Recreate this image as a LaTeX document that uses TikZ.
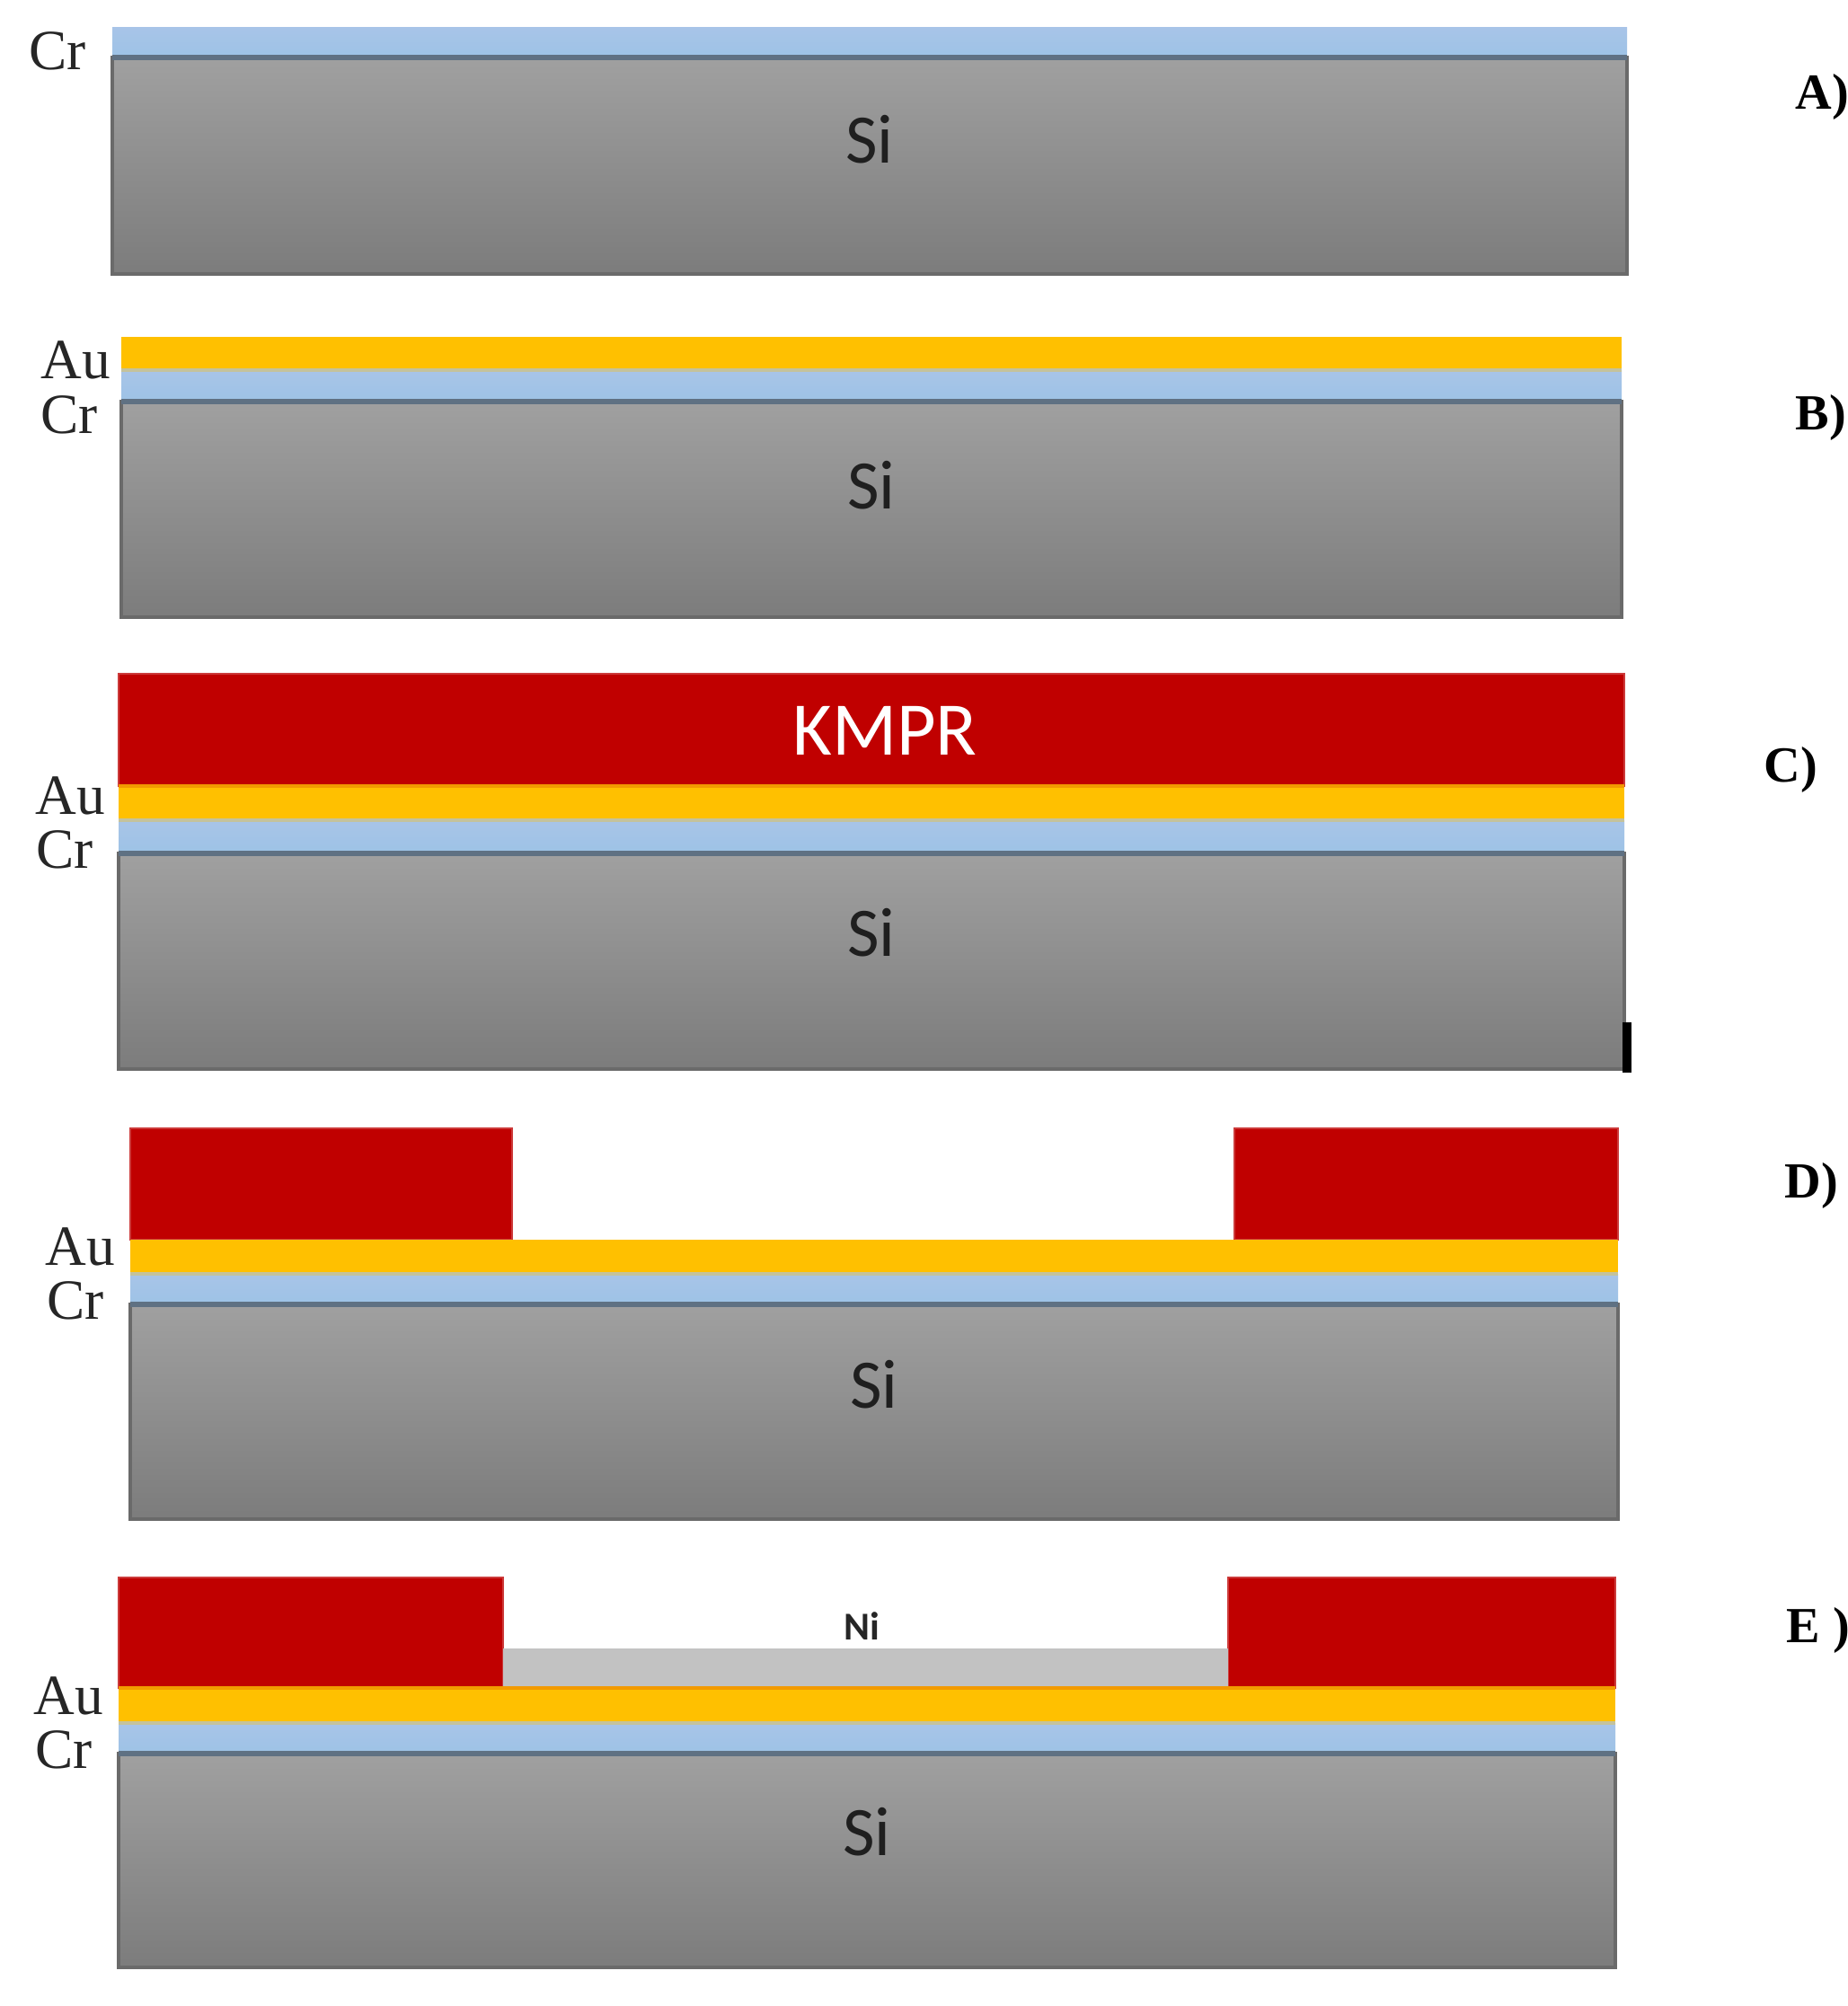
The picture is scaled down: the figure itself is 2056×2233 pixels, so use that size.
\documentclass[tikz,border=0pt]{standalone}
\usepackage{fontspec}
\setmainfont{Liberation Serif}
\newfontfamily\calib{Carlito}
\definecolor{crblue}{HTML}{9DC3E6}
\definecolor{crtop}{HTML}{A8C4E8}
\definecolor{aucol}{HTML}{FFC000}
\definecolor{kmprcol}{HTML}{C00000}
\definecolor{kmpredge}{HTML}{CC3A3A}
\definecolor{nicol}{HTML}{C2C2C2}
\definecolor{sitop}{HTML}{A0A0A0}
\definecolor{sibot}{HTML}{7C7C7C}
\definecolor{siedge}{HTML}{6A6A6A}
\definecolor{crline}{HTML}{5F7183}
\definecolor{aucrline}{HTML}{C4C29C}
\definecolor{kauline}{HTML}{F29A00}
\begin{document}
\begin{tikzpicture}[x=0.01cm,y=-0.01cm,
  silayer/.style={top color=sitop,bottom color=sibot,draw=siedge,line width=1.4pt},
  crlayer/.style={top color=crtop,bottom color=crblue,draw=none},
  aulayer/.style={fill=aucol,draw=none},
  kmprlayer/.style={fill=kmprcol,draw=kmpredge,line width=0.8pt},
  nilayer/.style={fill=nicol,draw=none},
  crsep/.style={draw=crline,line width=1.6pt},
  ausep/.style={draw=aucrline,line width=1.2pt},
  kasep/.style={draw=kauline,line width=1.2pt},
  sitext/.style={font=\calib\fontsize{22}{22}\selectfont,text=black!88,inner sep=0pt},
  layertext/.style={font=\fontsize{18}{18}\selectfont,text=black!85,inner sep=0pt},
  steptext/.style={font=\bfseries\fontsize{16}{16}\selectfont,text=black,inner sep=0pt,anchor=west},
  kmprtext/.style={font=\calib\fontsize{24}{24}\selectfont,text=white,inner sep=0pt},
  nitext/.style={font=\calib\bfseries\fontsize{12.5}{12.5}\selectfont,text=black!85,inner sep=0pt}
]
\useasboundingbox (0,0) rectangle (2056,2233);
\fill[white] (0,0) rectangle (2056,2233);

% ---------------- Panel A ----------------
\path[crlayer] (125,30) rectangle (1811,64);
\path[silayer] (125,64) rectangle (1811,305);
\draw[crsep] (125,64) -- (1811,64);
\node[layertext] (aCr) at (64,57) {Cr};
\node[sitext] (aSi) at (968,155) {Si};
\node[steptext] (aLab) at (1998,108) {A)};

% ---------------- Panel B ----------------
\path[aulayer] (135,375) rectangle (1805,412);
\path[crlayer] (135,412) rectangle (1805,447);
\path[silayer] (135,447) rectangle (1805,687);
\draw[ausep] (135,412) -- (1805,412);
\draw[crsep] (135,447) -- (1805,447);
\node[layertext] (bAu) at (84,401) {Au};
\node[layertext] (bCr) at (77,462) {Cr};
\node[sitext] (bSi) at (970,540) {Si};
\node[steptext] (bLab) at (1998,465) {B)};

% ---------------- Panel C ----------------
\path[kmprlayer] (132,750) rectangle (1808,875);
\path[aulayer] (132,875) rectangle (1808,913);
\path[crlayer] (132,913) rectangle (1808,950);
\path[silayer] (132,950) rectangle (1808,1190);
\draw[kasep] (132,875) -- (1808,875);
\draw[ausep] (132,913) -- (1808,913);
\draw[crsep] (132,950) -- (1808,950);
\fill[black] (1806,1138) rectangle (1816,1194);
\node[kmprtext] (cK) at (985,813) {KMPR};
\node[layertext] (cAu) at (78,886) {Au};
\node[layertext] (cCr) at (72,946) {Cr};
\node[sitext] (cSi) at (970,1038) {Si};
\node[steptext] (cLab) at (1963,857) {C)};

% ---------------- Panel D ----------------
\path[kmprlayer] (145,1256) rectangle (570,1380);
\path[kmprlayer] (1374,1256) rectangle (1801,1380);
\path[aulayer] (145,1380) rectangle (1801,1418);
\path[crlayer] (145,1418) rectangle (1801,1452);
\path[silayer] (145,1452) rectangle (1801,1691);
\draw[ausep] (145,1418) -- (1801,1418);
\draw[crsep] (145,1452) -- (1801,1452);
\node[layertext] (dAu) at (89,1388) {Au};
\node[layertext] (dCr) at (84,1448) {Cr};
\node[sitext] (dSi) at (973,1541) {Si};
\node[steptext] (dLab) at (1986,1320) {D)};

% ---------------- Panel E ----------------
\path[kmprlayer] (132,1756) rectangle (560,1879);
\path[kmprlayer] (1367,1756) rectangle (1798,1879);
\path[nilayer] (560,1835) rectangle (1367,1879);
\path[aulayer] (132,1879) rectangle (1798,1918);
\path[crlayer] (132,1918) rectangle (1798,1952);
\path[silayer] (132,1952) rectangle (1798,2190);
\draw[kasep] (132,1879) -- (1798,1879);
\draw[ausep] (132,1918) -- (1798,1918);
\draw[crsep] (132,1952) -- (1798,1952);
\node[nitext] (eNi) at (959,1810) {Ni};
\node[layertext] (eAu) at (76,1888) {Au};
\node[layertext] (eCr) at (71,1948) {Cr};
\node[sitext] (eSi) at (965,2039) {Si};
\node[steptext] (eLab) at (1988,1815) {E )};
\end{tikzpicture}
\end{document}
